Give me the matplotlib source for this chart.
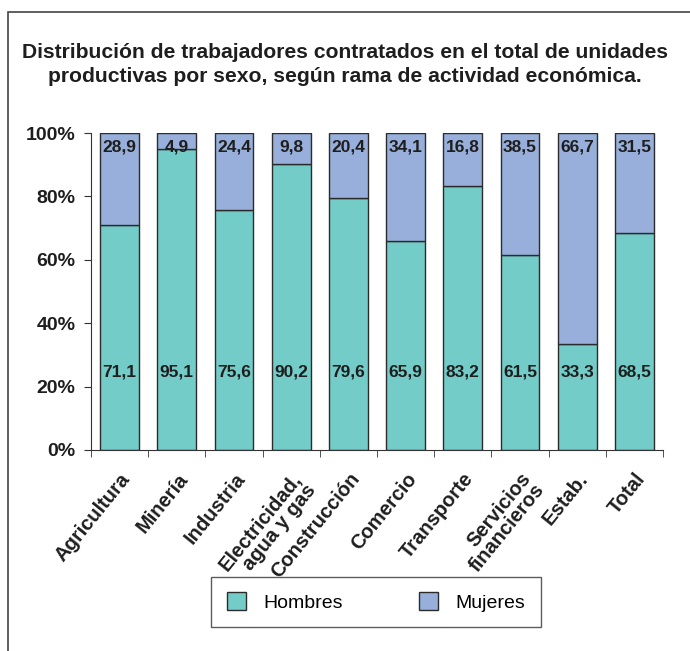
import matplotlib
matplotlib.use("Agg")
import matplotlib.pyplot as plt
from matplotlib.patches import Rectangle
import numpy as np

categories = ["Agricultura", "Minería", "Industria", "Electricidad,\nagua y gas",
              "Construcción", "Comercio", "Transporte", "Servicios\nfinancieros",
              "Estab.", "Total"]
hombres = [71.1, 95.1, 75.6, 90.2, 79.6, 65.9, 83.2, 61.5, 33.3, 68.5]
mujeres = [28.9, 4.9, 24.4, 9.8, 20.4, 34.1, 16.8, 38.5, 66.7, 31.5]
yticks = [0, 20, 40, 60, 80, 100]

c_h = '#74CCC8'
c_m = '#97AFDA'
edge = '#2b2b2b'
txt = '#1e1e1e'
fam = 'Liberation Sans'

fig = plt.figure(figsize=(6.9, 6.51), dpi=100)
ax = fig.add_axes([91/690, 1-450/651, (663-91)/690, (450-133)/651])

x = np.arange(len(categories))
w = 0.68
ax.bar(x, hombres, w, color=c_h, edgecolor=edge, linewidth=1.0, label='Hombres')
ax.bar(x, mujeres, w, bottom=hombres, color=c_m, edgecolor=edge, linewidth=1.0, label='Mujeres')

for i in range(len(categories)):
    ax.text(x[i], 24.7, f"{hombres[i]:.1f}".replace('.', ','), ha='center', va='center',
            fontsize=12.5, fontweight='bold', family=fam, color=txt)
    ax.text(x[i], 95.6, f"{mujeres[i]:.1f}".replace('.', ','), ha='center', va='center',
            fontsize=12.5, fontweight='bold', family=fam, color=txt)

ax.set_xlim(-0.5, len(categories)-0.5)
ax.set_ylim(0, 100)
ax.set_yticks(yticks)
ax.set_yticklabels([f"{v}%" for v in yticks], fontsize=14, fontweight='bold', family=fam, color=txt)
ax.set_xticks(x)
ax.set_xticklabels(categories, rotation=51, ha='right', rotation_mode='anchor',
                   fontsize=14.5, fontweight='bold', family=fam, color=txt,
                   linespacing=0.9)
ax.tick_params(axis='x', which='major', length=0, pad=14)
ax.set_xticks(np.arange(-0.5, len(categories)), minor=True)
ax.tick_params(axis='x', which='minor', length=5, direction='out', color='#333333')
ax.tick_params(axis='y', length=5, direction='out', color='#333333', pad=6)
for s in ['top', 'right']:
    ax.spines[s].set_visible(False)
for s in ['left', 'bottom']:
    ax.spines[s].set_color('#333333')

fig.text(0.5, 1-52/651, "Distribución de trabajadores contratados en el total de unidades",
         ha='center', va='center', fontsize=15.2, fontweight='bold', family=fam, color=txt)
fig.text(0.5, 1-76/651, "productivas por sexo, según rama de actividad económica.",
         ha='center', va='center', fontsize=15.2, fontweight='bold', family=fam, color=txt)

leg = fig.legend(loc='center', bbox_to_anchor=(376/690, 1-602/651), ncol=2,
                 prop={'family': fam, 'size': 14},
                 frameon=True, fancybox=False, edgecolor='#333333',
                 handlelength=1.0, handleheight=1.0, columnspacing=3.9,
                 borderpad=0.8, handletextpad=0.9, borderaxespad=0)
leg.get_frame().set_linewidth(1.0)

fig.patches.append(Rectangle((8/690, -0.1), 1.2, 1-12/651+0.1, transform=fig.transFigure,
                             fill=False, edgecolor='#444444', linewidth=1.2))

fig.savefig('out.png', dpi=100)
